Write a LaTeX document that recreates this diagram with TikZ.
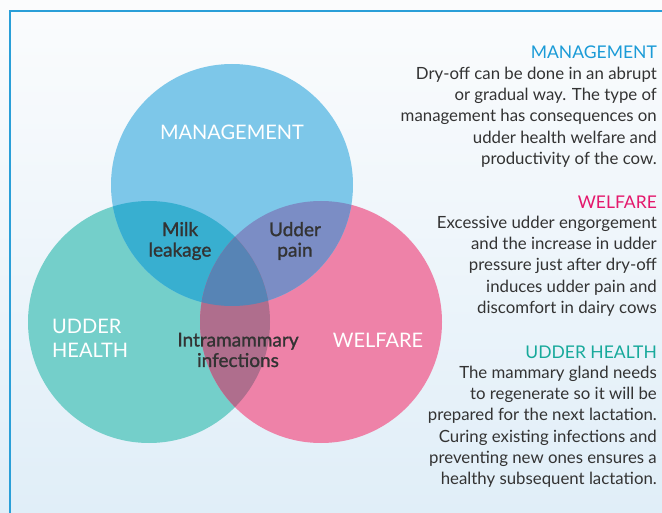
\documentclass[tikz,border=0pt]{standalone}
\usepackage{fontspec}
\setmainfont{Lato}
\newfontfamily\heavyfont[FakeBold=1.3]{Lato}
\usetikzlibrary{positioning}

\definecolor{mgmtblue}{HTML}{7DC7E9}
\definecolor{healthteal}{HTML}{74CFCA}
\definecolor{welfarepink}{HTML}{EE82A8}
\definecolor{bluteal}{HTML}{38AFD0}
\definecolor{blupink}{HTML}{7B8DC5}
\definecolor{tealpink}{HTML}{AF6E8D}
\definecolor{allthree}{HTML}{5784B5}
\definecolor{framecol}{HTML}{2A9FD8}
\definecolor{bodytext}{HTML}{333333}
\definecolor{titleblue}{HTML}{1B9BD7}
\definecolor{titlepink}{HTML}{E4186C}
\definecolor{titleteal}{HTML}{17A99B}
\definecolor{bgtop}{HTML}{FBFCFD}
\definecolor{bgbottom}{HTML}{E0EEF8}

\newcommand{\mgmtcirc}{(232,185) circle (121pt)}
\newcommand{\healthcirc}{(149,322) circle (121pt)}
\newcommand{\welfarecirc}{(321,322) circle (121pt)}

\begin{document}
\begin{tikzpicture}[x=1pt, y=-1pt,
    circlelabel/.style={text=white, inner sep=0pt, font=\fontsize{20}{24}\selectfont},
    overlaplabel/.style={text=bodytext, inner sep=0pt, align=center, font=\heavyfont\fontsize{19}{20.5}\selectfont},
    sidetitle/.style={inner sep=0pt, anchor=east, font=\fontsize{17.5}{20}\selectfont},
    sidetext/.style={inner sep=0pt, anchor=north east, align=right, text=bodytext, font=\fontsize{16.8}{21.2}\selectfont}]
    \useasboundingbox (0,0) rectangle (662,513);

    % Background and frame.
    \shade[top color=bgtop, bottom color=bgbottom] (0,0) rectangle (662,513);
    \draw[framecol, line width=2pt] (662,11) -- (10,11) -- (10,513);

    % Circles.
    \fill[healthteal] \healthcirc;
    \fill[welfarepink] \welfarecirc;
    \fill[mgmtblue] \mgmtcirc;

    % Overlaps.
    \begin{scope}
        \clip \mgmtcirc;
        \fill[bluteal] \healthcirc;
        \fill[blupink] \welfarecirc;
    \end{scope}
    \begin{scope}
        \clip \healthcirc;
        \fill[tealpink] \welfarecirc;
    \end{scope}
    \begin{scope}
        \clip \mgmtcirc;
        \clip \healthcirc;
        \fill[allthree] \welfarecirc;
    \end{scope}

    % Circle labels.
    \node[circlelabel] (mgmtlabel) at (232,132) {MANAGEMENT};
    \node[circlelabel, anchor=west, align=left] (healthlabel) at (52,338) {UDDER\\HEALTH};
    \node[circlelabel] (welfarelabel) at (378,340) {WELFARE};

    % Overlap labels.
    \node[overlaplabel] (milk) at (180,241) {Milk\\leakage};
    \node[overlaplabel] (pain) at (295,241) {Udder\\pain};
    \node[overlaplabel] (imi) at (238,350) {Intramammary\\infections};

    % Side texts.
    \node[sidetitle, text=titleblue] (mgmttitle) at (657,52) {MANAGEMENT};
    \node[sidetext] (mgmttext) at (657,67) {Dry-off can be done in an abrupt\\or gradual way. The type of\\management has consequences on\\udder health welfare and\\productivity of the cow.};

    \node[sidetitle, text=titlepink] (welfaretitle) at (657,202) {WELFARE};
    \node[sidetext] (welfaretext) at (657,216) {Excessive udder engorgement\\and the increase in udder\\pressure just after dry-off\\induces udder pain and\\discomfort in dairy cows};

    \node[sidetitle, text=titleteal] (healthtitle) at (657,352) {UDDER HEALTH};
    \node[sidetext] (healthtext) at (657,366) {The mammary gland needs\\to regenerate so it will be\\prepared for the next lactation.\\Curing existing infections and\\preventing new ones ensures a\\healthy subsequent lactation.};
\end{tikzpicture}
\end{document}
